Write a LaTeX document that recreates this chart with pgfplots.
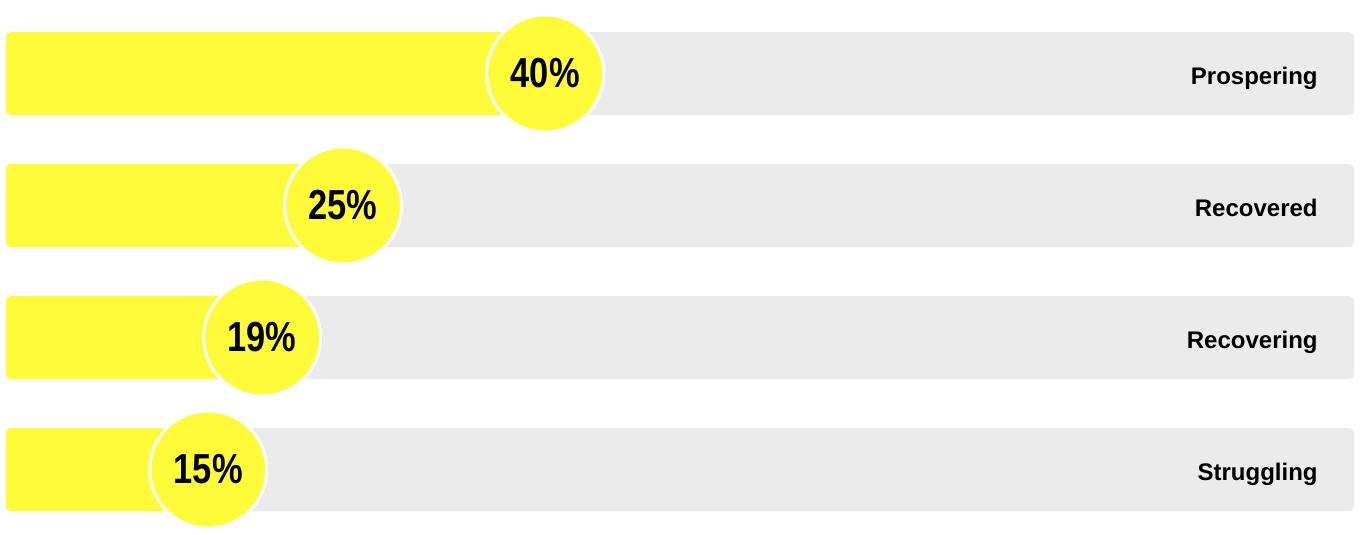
\documentclass[border=0pt]{standalone}
\usepackage{pgfplots}
\pgfplotsset{compat=1.18}
\usepackage{fontspec}
\setmainfont{Liberation Sans}
\definecolor{barbg}{RGB}{235,235,235}
\definecolor{barfg}{RGB}{255,251,56}

\begin{document}
\begin{tikzpicture}[lbl/.style={anchor=base east, inner sep=0pt, yshift=-5.25pt,
    font=\fontsize{12}{12}\selectfont\bfseries}]
\begin{axis}[
  scale only axis, width=680pt, height=267.5pt,
  xmin=-0.445, xmax=100.445, ymin=-0.496, ymax=3.557,
  hide axis, clip=false,
  xbar, bar width=41.5pt, bar shift=0pt,
]
% invisible frame: keeps the page the size of the axis box
\path (rel axis cs:0,0) rectangle (rel axis cs:1,1);

% full-width grey tracks
\addplot[fill=barbg, draw=none, rounded corners=2.5pt]
  coordinates {(100,3) (100,2) (100,1) (100,0)};

% yellow shares, with the circled value at the bar end
\addplot[fill=barfg, draw=none, rounded corners=2.5pt,
  nodes near coords={\scalebox{0.82}[1]{\pgfmathprintnumber[assume math mode=true]{\pgfplotspointmeta}\%}},
  every node near coord/.append style={anchor=center, circle, fill=barfg,
    draw=white, line width=1.5pt, minimum size=58.5pt, inner sep=0pt,
    font=\fontsize{21}{21}\selectfont\bfseries, text=black}]
  coordinates {(40,3) (25,2) (19,1) (15,0)};

\node[lbl] at (axis cs:97.33,3) {Prospering};
\node[lbl] at (axis cs:97.33,2) {Recovered};
\node[lbl] at (axis cs:97.33,1) {Recovering};
\node[lbl] at (axis cs:97.33,0) {Struggling};
\end{axis}
\end{tikzpicture}
\end{document}
